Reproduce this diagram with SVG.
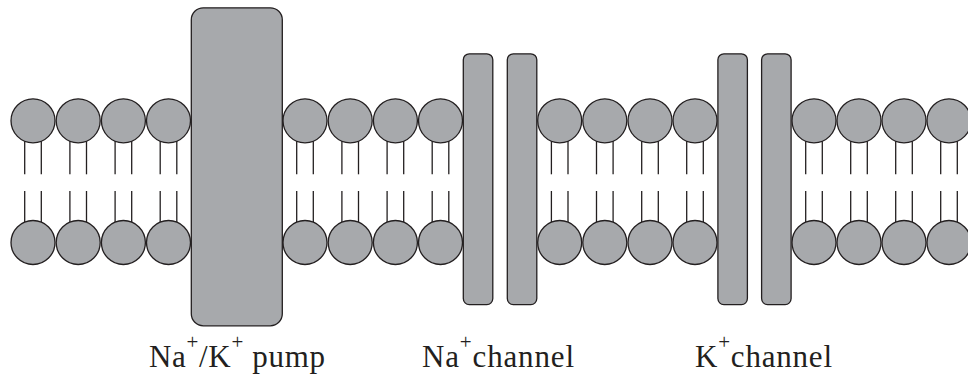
<svg xmlns="http://www.w3.org/2000/svg" xmlns:xlink="http://www.w3.org/1999/xlink" width="968" height="377" viewBox="0 0 968 377">
  <style>
    .head { fill: #a7a9ac; stroke: #231f20; stroke-width: 1.3; }
    .tail { stroke: #231f20; stroke-width: 1.3; fill: none; }
    .protein { fill: #a7a9ac; stroke: #231f20; stroke-width: 1.3; }
    .label { font-family: "Liberation Serif", "Times New Roman", serif; font-size: 31px; fill: #231f20; }
    .sup { font-size: 21px; }
  </style>
  <defs>
    <!-- one phospholipid pair: upper and lower head with their tails -->
    <g id="lipid">
      <line class="tail" x1="-8.3" y1="130" x2="-8.3" y2="174.3"/>
      <line class="tail" x1="8.3" y1="130" x2="8.3" y2="174.3"/>
      <line class="tail" x1="-8.3" y1="191" x2="-8.3" y2="234"/>
      <line class="tail" x1="8.3" y1="191" x2="8.3" y2="234"/>
      <circle class="head" cx="0" cy="120.8" r="22"/>
      <circle class="head" cx="0" cy="242.5" r="22"/>
    </g>
  </defs>

  <g id="bilayer-1">
    <use xlink:href="#lipid" x="33"/>
    <use xlink:href="#lipid" x="78.2"/>
    <use xlink:href="#lipid" x="123.4"/>
    <use xlink:href="#lipid" x="168.5"/>
  </g>
  <g id="bilayer-2">
    <use xlink:href="#lipid" x="305"/>
    <use xlink:href="#lipid" x="350.2"/>
    <use xlink:href="#lipid" x="395.4"/>
    <use xlink:href="#lipid" x="440.5"/>
  </g>
  <g id="bilayer-3">
    <use xlink:href="#lipid" x="559.7"/>
    <use xlink:href="#lipid" x="604.8"/>
    <use xlink:href="#lipid" x="650"/>
    <use xlink:href="#lipid" x="695"/>
  </g>
  <g id="bilayer-4">
    <use xlink:href="#lipid" x="814"/>
    <use xlink:href="#lipid" x="859"/>
    <use xlink:href="#lipid" x="904"/>
    <use xlink:href="#lipid" x="949"/>
  </g>

  <g id="pump">
    <rect class="protein" x="191.3" y="7.8" width="91" height="318" rx="12"/>
    <text class="label" x="149" y="367" textLength="176" lengthAdjust="spacing">Na<tspan class="sup" dy="-18">+</tspan><tspan dy="18">/K</tspan><tspan class="sup" dy="-18">+</tspan><tspan dy="18"> pump</tspan></text>
  </g>

  <g id="na-channel">
    <rect class="protein" x="463.3" y="53.8" width="29.5" height="250.8" rx="6"/>
    <rect class="protein" x="507.3" y="53.8" width="29.5" height="250.8" rx="6"/>
    <text class="label" x="422" y="367" textLength="152" lengthAdjust="spacing">Na<tspan class="sup" dy="-18">+</tspan><tspan dy="18">channel</tspan></text>
  </g>

  <g id="k-channel">
    <rect class="protein" x="717.9" y="53.8" width="29.5" height="250.8" rx="6"/>
    <rect class="protein" x="761.6" y="53.8" width="29.5" height="250.8" rx="6"/>
    <text class="label" x="695" y="367" textLength="137" lengthAdjust="spacing">K<tspan class="sup" dy="-18">+</tspan><tspan dy="18">channel</tspan></text>
  </g>

  <g id="connectors"/>
</svg>
